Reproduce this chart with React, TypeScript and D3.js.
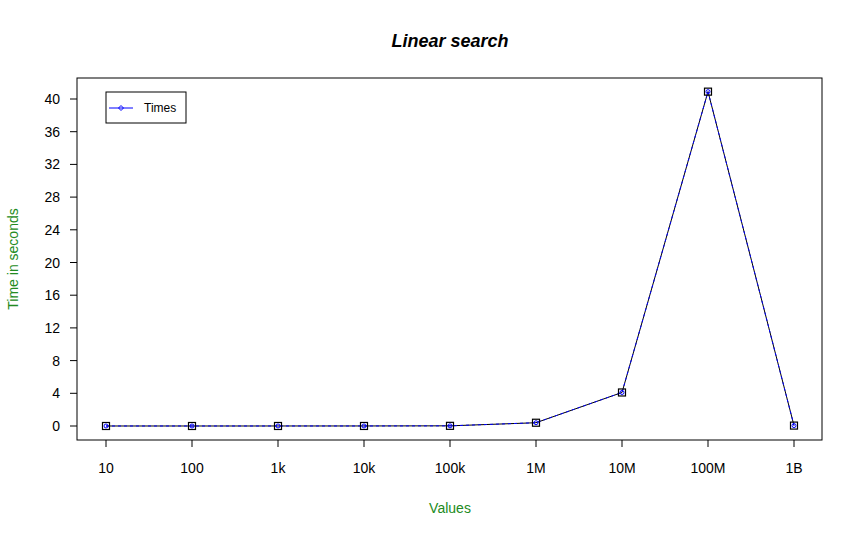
import React from 'react';
import * as d3 from 'd3';

const categories = ['10', '100', '1k', '10k', '100k', '1M', '10M', '100M', '1B'];
const times = [0.001, 0.001, 0.002, 0.004, 0.02, 0.4, 4.1, 40.9, 0.05];
const yTicks = [0, 4, 8, 12, 16, 20, 24, 28, 32, 36, 40];

export default function App() {
  const W = 862, H = 538;
  const box = { l: 77, r: 822, t: 78, b: 440 };
  const x = d3.scalePoint<string>().domain(categories).range([106, 794]);
  const y = d3.scaleLinear().domain([0, 40]).range([426, 99]);
  const line = d3.line<number>().x((_, i) => x(categories[i])!).y(d => y(d));
  const path = line(times)!;
  const font = 'Arial, "Liberation Sans", sans-serif';
  return (
    <svg width={W} height={H} style={{ position: 'absolute', left: 0, top: 0 }} fontFamily={font}>
      <rect width={W} height={H} fill="#fff" />
      <text x={450} y={47} textAnchor="middle" fontSize={18} fontWeight="bold" fontStyle="italic">Linear search</text>
      <rect x={box.l} y={box.t} width={box.r - box.l} height={box.b - box.t} fill="none" stroke="#000" />
      {categories.map(c => (
        <g key={c}>
          <line x1={x(c)} x2={x(c)} y1={box.b} y2={box.b + 7} stroke="#000" />
          <text x={x(c)} y={473} textAnchor="middle" fontSize={14}>{c}</text>
        </g>
      ))}
      {yTicks.map(t => (
        <g key={t}>
          <line x1={box.l - 7} x2={box.l} y1={y(t)} y2={y(t)} stroke="#000" />
          <text x={60} y={y(t) + 5} textAnchor="end" fontSize={14}>{t}</text>
        </g>
      ))}
      <text x={450} y={513} textAnchor="middle" fontSize={14} fill="#228b22">Values</text>
      <text transform="translate(18,259) rotate(-90)" textAnchor="middle" fontSize={14} fill="#228b22">Time in seconds</text>
      <path d={path} fill="none" stroke="#000" strokeWidth={1} />
      <path d={path} fill="none" stroke="#0000ff" strokeWidth={1} strokeDasharray="3,3" />
      {times.map((v, i) => (
        <g key={i}>
          <rect x={x(categories[i])! - 3.5} y={y(v) - 3.5} width={7} height={7} fill="none" stroke="#000" strokeWidth={1.2} />
          <circle cx={x(categories[i])} cy={y(v)} r={2} fill="none" stroke="#0000ff" />
        </g>
      ))}
      <rect x={106} y={92} width={80} height={31} fill="#fff" stroke="#000" />
      <line x1={109} x2={133} y1={108} y2={108} stroke="#0000ff" />
      <path d="M121,105.5 L123.5,108 L121,110.5 L118.5,108 Z" fill="none" stroke="#0000ff" />
      <text x={144} y={112} fontSize={12}>Times</text>
    </svg>
  );
}
